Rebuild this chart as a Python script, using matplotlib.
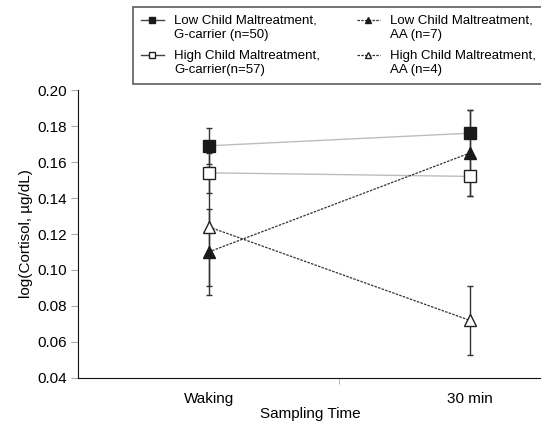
import numpy as np
import matplotlib.pyplot as plt
from matplotlib.legend_handler import HandlerLine2D

plt.rcParams['font.family'] = ['Liberation Sans', 'DejaVu Sans']

# sampling times and group means / SE
times = ['Waking', '30 min']
low_g = [0.169, 0.176]
low_g_err = [0.010, 0.013]
high_g = [0.154, 0.152]
high_g_err = [0.011, 0.011]
low_aa = [0.110, 0.165]
low_aa_err = [0.024, 0.024]
high_aa = [0.124, 0.072]
high_aa_err = [0.033, 0.019]

lab_low_g = 'Low Child Maltreatment,\nG-carrier (n=50)'
lab_high_g = 'High Child Maltreatment,\nG-carrier(n=57)'
lab_low_aa = 'Low Child Maltreatment,\nAA (n=7)'
lab_high_aa = 'High Child Maltreatment,\nAA (n=4)'

x = np.array([0.5, 1.5])


# legend handle sits on the first text line, not centred on both
class FirstLineHandler(HandlerLine2D):
    def create_artists(self, legend, orig_handle, xdescent, ydescent,
                       width, height, fontsize, trans):
        arts = super().create_artists(legend, orig_handle, xdescent, ydescent,
                                      width, height, fontsize, trans)
        for a in arts:
            a.set_ydata(np.asarray(a.get_ydata()) + 0.6 * fontsize)
            if a.get_linestyle() == '-':
                a.set_color('#444444')
        return arts


fig = plt.figure(figsize=(5.41, 4.26), dpi=100)
ax = fig.add_axes([0.1442, 0.1127, 0.858, 0.676])

err_kw = dict(ecolor='#333333', elinewidth=1.0, capsize=2.5, capthick=1.0)

h1 = ax.errorbar(x, low_g, yerr=low_g_err, color='#bdbdbd', lw=1.0, marker='s',
                 ms=8, mfc='#1a1a1a', mec='#1a1a1a', zorder=3, **err_kw)
h3 = ax.errorbar(x, high_g, yerr=high_g_err, color='#bdbdbd', lw=1.0, marker='s',
                 ms=8, mfc='white', mec='#222222', zorder=3, **err_kw)
h2 = ax.errorbar(x, low_aa, yerr=low_aa_err, color='#333333', lw=0.9, ls=(0, (2, 1)),
                 marker='^', ms=8.5, mfc='#1a1a1a', mec='#1a1a1a', zorder=3, **err_kw)
h4 = ax.errorbar(x, high_aa, yerr=high_aa_err, color='#333333', lw=0.9, ls=(0, (2, 1)),
                 marker='^', ms=8.5, mfc='white', mec='#222222', zorder=3, **err_kw)

ax.set_xlim(0, 1.777)
ax.set_ylim(0.04, 0.20)
yt = np.arange(0.04, 0.201, 0.02)
ax.set_yticks(yt)
ax.set_yticklabels([f'{v:.2f}' for v in yt])
ax.set_xticks(x)
ax.set_xticklabels(times)
ax.set_xticks([1.0], minor=True)
ax.tick_params(axis='x', which='major', length=0, labelsize=11, pad=10)
ax.tick_params(axis='x', which='minor', length=4, color='#aaaaaa')
ax.tick_params(axis='y', labelsize=11, length=5, color='#aaaaaa', pad=3)

for s in ['top', 'right']:
    ax.spines[s].set_visible(False)
ax.spines['left'].set_color('#111111')
ax.spines['bottom'].set_color('#111111')

ax.set_xlabel('Sampling Time', fontsize=11, labelpad=1)
ax.set_ylabel('log(Cortisol, µg/dL)', fontsize=11, labelpad=3)

# legend filled column by column
handles = [h1[0], h3[0], h2[0], h4[0]]
labels = [lab_low_g, lab_high_g, lab_low_aa, lab_high_aa]
leg = fig.legend(handles, labels, loc='upper left', ncol=2,
                 bbox_to_anchor=(0.2458, 0.9836), fontsize=9.5,
                 frameon=True, fancybox=False, edgecolor='#333333',
                 markerscale=0.5, handlelength=1.75, handletextpad=0.75,
                 columnspacing=2.8, labelspacing=0.7, borderpad=0.6,
                 borderaxespad=0,
                 handler_map={h[0]: FirstLineHandler() for h in (h1, h2, h3, h4)})
leg.get_frame().set_linewidth(1.2)

fig.savefig('out.png', dpi=100)
